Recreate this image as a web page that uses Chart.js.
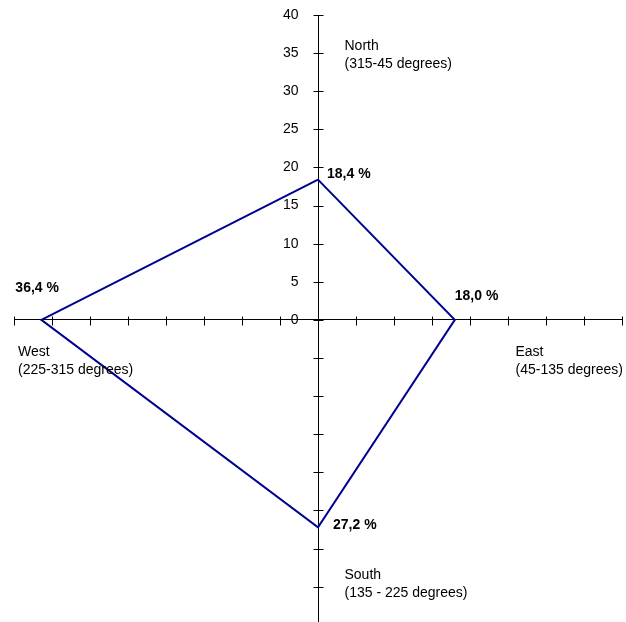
<!DOCTYPE html>
<html>
<head>
<meta charset="utf-8">
<script src="https://cdn.jsdelivr.net/npm/chart.js@4.4.1/dist/chart.umd.min.js"></script>
<style>
  body { margin: 0; background: #fff; }
  canvas { display: block; }
</style>
</head>
<body>
<canvas id="myChart" width="626" height="622"></canvas>
<script>
// wind direction shares (percent)
const directions = ['North', 'East', 'South', 'West'];
const xValues = [0, 18.0, 0, -36.4];
const yValues = [18.4, 0, -27.2, 0];
const valueLabels = ['18,4 %', '18,0 %', '27,2 %', '36,4 %'];
const dirLabels = [
  ['North', '(315-45 degrees)'],
  ['East', '(45-135 degrees)'],
  ['South', '(135 - 225 degrees)'],
  ['West', '(225-315 degrees)']
];
const xTicks = [-40, -35, -30, -25, -20, -15, -10, -5, 0, 5, 10, 15, 20, 25, 30, 35, 40];
const yTicks = [-35, -30, -25, -20, -15, -10, -5, 0, 5, 10, 15, 20, 25, 30, 35, 40];

const FONT = 'Arial, "Liberation Sans", sans-serif';

// close the diamond by going back to the first point
const points = directions.map((d, i) => ({ x: xValues[i], y: yValues[i] }));
points.push({ x: xValues[0], y: yValues[0] });

// crossing tick marks on both axes, y tick labels and the text labels
const crossAxes = {
  id: 'crossAxes',
  afterDraw(chart) {
    const ctx = chart.ctx;
    const xs = chart.scales.x, ys = chart.scales.y;
    const cx = Math.round(xs.getPixelForValue(0)) + 0.5;
    const cy = Math.round(ys.getPixelForValue(0)) + 0.5;

    ctx.save();
    ctx.strokeStyle = '#000';
    ctx.lineWidth = 1;
    ctx.beginPath();
    xTicks.forEach(v => {
      const px = Math.round(xs.getPixelForValue(v)) + 0.5;
      ctx.moveTo(px, cy - 4);
      ctx.lineTo(px, cy + 5);
    });
    yTicks.forEach(v => {
      const py = Math.round(ys.getPixelForValue(v)) + 0.5;
      ctx.moveTo(cx - 5, py);
      ctx.lineTo(cx + 5, py);
    });
    ctx.stroke();

    // y tick labels, positive half only
    ctx.fillStyle = '#000';
    ctx.font = '14px ' + FONT;
    ctx.textAlign = 'right';
    ctx.textBaseline = 'middle';
    yTicks.filter(v => v >= 0).forEach(v => {
      ctx.fillText(String(v), cx - 20, ys.getPixelForValue(v));
    });

    // value labels next to each corner
    const meta = chart.getDatasetMeta(0);
    const offs = [[9, -6], [0, -24], [15, -2], [-26, -32]];
    ctx.font = 'bold 14px ' + FONT;
    ctx.textAlign = 'left';
    valueLabels.forEach((t, i) => {
      const p = meta.data[i];
      ctx.fillText(t, p.x + offs[i][0], p.y + offs[i][1]);
    });

    // direction names
    ctx.font = '14px ' + FONT;
    const area = chart.chartArea;
    const anchors = [
      [cx + 26, cy - 274],
      [cx + 197, cy + 32],
      [cx + 26, cy + 255],
      [area.left + 4, cy + 32]
    ];
    dirLabels.forEach((lines, i) => {
      lines.forEach((t, j) => {
        ctx.fillText(t, anchors[i][0], anchors[i][1] + j * 18);
      });
    });
    ctx.restore();
  }
};

const ctx = document.getElementById('myChart').getContext('2d');
const myChart = new Chart(ctx, {
  type: 'scatter',
  data: {
    datasets: [{
      data: points,
      showLine: true,
      borderColor: '#000090',
      borderWidth: 2,
      pointRadius: 0,
      fill: false,
      tension: 0
    }]
  },
  options: {
    responsive: false,
    animation: false,
    layout: { padding: { left: 14, right: 4, top: 15, bottom: 1 } },
    plugins: { legend: { display: false }, tooltip: { enabled: false } },
    scales: {
      x: {
        type: 'linear',
        min: -40,
        max: 40,
        position: { y: 0 },
        afterBuildTicks: s => { s.ticks = xTicks.map(v => ({ value: v })); },
        grid: { display: false, drawTicks: false, tickLength: 0 },
        border: { display: true, color: '#000', width: 1 },
        ticks: { display: false }
      },
      y: {
        type: 'linear',
        min: -39.5,
        max: 40,
        position: { x: 0 },
        afterBuildTicks: s => { s.ticks = yTicks.map(v => ({ value: v })); },
        grid: { display: false, drawTicks: false, tickLength: 0 },
        border: { display: true, color: '#000', width: 1 },
        ticks: { display: false }
      }
    }
  },
  plugins: [crossAxes]
});
</script>
</body>
</html>
